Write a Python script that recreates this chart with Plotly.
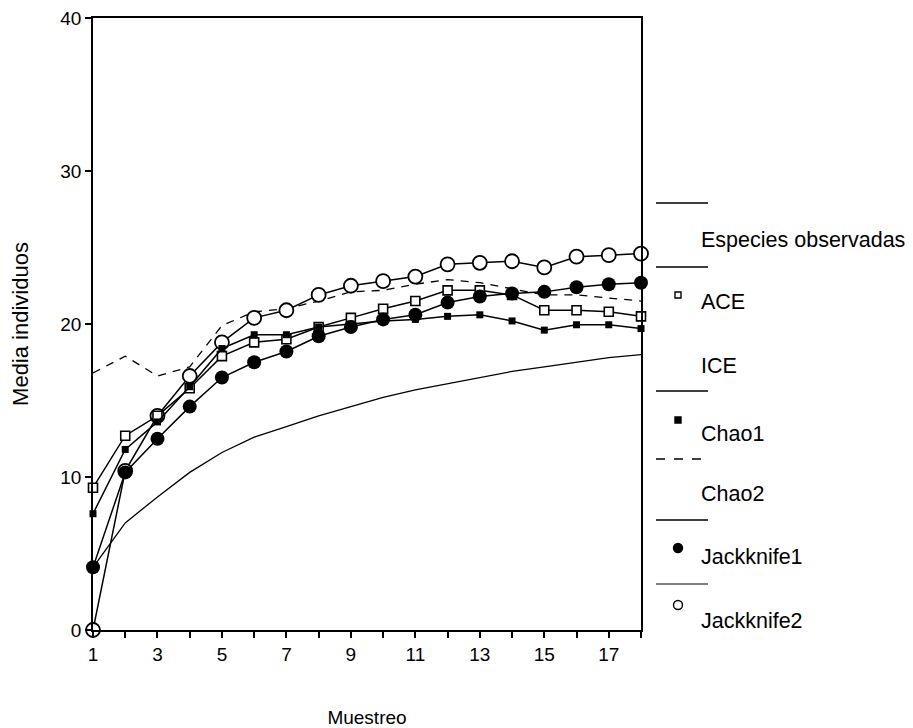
import plotly.graph_objects as go

samples = list(range(1, 19))
sobs = [4.1, 7.0, 8.7, 10.3, 11.6, 12.6, 13.3, 14.0, 14.6, 15.2, 15.7, 16.1, 16.5, 16.9, 17.2, 17.5, 17.8, 18.0]
ace = [9.3, 12.7, 14.0, 15.8, 17.9, 18.8, 19.0, 19.8, 20.4, 21.0, 21.5, 22.2, 22.2, 21.9, 20.9, 20.9, 20.8, 20.5]
chao1 = [7.6, 11.8, 13.6, 15.9, 18.4, 19.3, 19.3, 19.8, 20.0, 20.2, 20.3, 20.5, 20.6, 20.2, 19.6, 19.95, 19.95, 19.7]
chao2 = [16.8, 17.9, 16.6, 17.2, 19.9, 20.8, 21.0, 21.5, 22.1, 22.2, 22.6, 22.9, 22.7, 22.3, 21.9, 21.9, 21.7, 21.5]
jack1 = [4.1, 10.3, 12.5, 14.6, 16.5, 17.5, 18.2, 19.2, 19.8, 20.3, 20.6, 21.4, 21.8, 22.0, 22.1, 22.4, 22.6, 22.7]
jack2 = [0.0, 10.4, 14.0, 16.6, 18.8, 20.4, 20.9, 21.9, 22.5, 22.8, 23.1, 23.9, 24.0, 24.1, 23.7, 24.4, 24.5, 24.6]

y_ticks = [0, 10, 20, 30, 40]
x_tick_labels = [str(s) if s % 2 == 1 else "" for s in samples]
legend_names = ["Especies observadas", "ACE", "ICE", "Chao1", "Chao2", "Jackknife1", "Jackknife2"]

FONT = "Liberation Sans, Arial, sans-serif"
fig = go.Figure()

fig.add_trace(go.Scatter(x=samples, y=sobs, mode="lines", line=dict(color="black", width=1.3),
                         name=legend_names[0], cliponaxis=False))
fig.add_trace(go.Scatter(x=samples, y=chao2, mode="lines", line=dict(color="black", width=1.3, dash="8px,7px"),
                         name=legend_names[4], cliponaxis=False))
fig.add_trace(go.Scatter(x=samples, y=jack2, mode="lines+markers", line=dict(color="black", width=1.5),
                         marker=dict(symbol="circle", size=14, color="white", line=dict(color="black", width=1.8)),
                         name=legend_names[6], cliponaxis=False))
fig.add_trace(go.Scatter(x=samples, y=ace, mode="lines+markers", line=dict(color="black", width=1.5),
                         marker=dict(symbol="square", size=9, color="white", line=dict(color="black", width=1.6)),
                         name=legend_names[1], cliponaxis=False))
fig.add_trace(go.Scatter(x=samples, y=chao1, mode="lines+markers", line=dict(color="black", width=1.5),
                         marker=dict(symbol="square", size=7, color="black"),
                         name=legend_names[3], cliponaxis=False))
fig.add_trace(go.Scatter(x=samples, y=jack1, mode="lines+markers", line=dict(color="black", width=1.5),
                         marker=dict(symbol="circle", size=14, color="black"),
                         name=legend_names[5], cliponaxis=False))

# Manual legend (pixel -> paper conversion)
L, R, T, B = 93, 641, 18, 630
def px(x):
    return (x - L) / (R - L)
def py(y):
    return (B - y) / (B - T)

shapes = []
annotations = []
lx0, lx1, tx, mx = 656, 708, 699, 678
legend_items = [
    # (line_y, dash, width, marker, marker_y, text, text_y)
    (203, "solid", 1.5, None, None, legend_names[0], 240),
    (267, "solid", 1.5, "ace", 295, legend_names[1], 302),
    (None, None, None, None, None, legend_names[2], 366),
    (391, "solid", 1.5, "chao1", 420, legend_names[3], 434),
    (459, "dash", 1.3, None, None, legend_names[4], 494),
    (520, "solid", 1.5, "jack1", 548, legend_names[5], 557),
    (584, "solid", 1.0, "jack2", 605, legend_names[6], 621),
]
for ly, dash, w, mk, my, txt, ty in legend_items:
    if ly is not None:
        shapes.append(dict(type="line", xref="paper", yref="paper", x0=px(lx0), x1=px(lx1), y0=py(ly), y1=py(ly),
                           line=dict(color="black", width=w, dash=dash)))
    if mk is not None:
        if mk == "ace":
            h, kind, fill = 3, "rect", "white"
        elif mk == "chao1":
            h, kind, fill = 3, "rect", "black"
        elif mk == "jack1":
            h, kind, fill = 4.5, "circle", "black"
        else:
            h, kind, fill = 4.5, "circle", "white"
        shapes.append(dict(type=kind, xref="paper", yref="paper", xsizemode="pixel", ysizemode="pixel",
                           xanchor=px(mx), yanchor=py(my), x0=-h, x1=h, y0=-h, y1=h,
                           fillcolor=fill, line=dict(color="black", width=1.4)))
    annotations.append(dict(text=txt, xref="paper", yref="paper", x=px(tx), y=py(ty), xanchor="left",
                            yanchor="middle", showarrow=False, font=dict(family=FONT, size=21.5, color="black")))

fig.update_layout(
    width=913, height=728,
    margin=dict(l=L, r=913 - R, t=T, b=728 - B),
    paper_bgcolor="white", plot_bgcolor="white",
    showlegend=False,
    font=dict(family=FONT, size=19, color="black"),
    shapes=shapes, annotations=annotations,
    xaxis=dict(range=[1, 18], tickvals=samples, ticktext=x_tick_labels, ticks="outside", ticklen=6,
               tickwidth=1.5, tickcolor="black", showline=True, linecolor="black", linewidth=1.5,
               mirror=True, showgrid=False, zeroline=False, automargin=False,
               title=dict(text="Muestreo", standoff=48, font=dict(family=FONT, size=19))),
    yaxis=dict(range=[0, 40], tickvals=y_ticks, ticks="outside", ticklen=6, tickwidth=1.5, tickcolor="black",
               showline=True, linecolor="black", linewidth=1.5, mirror=True, showgrid=False, zeroline=False,
               automargin=False,
               title=dict(text="Media individuos", standoff=26, font=dict(family=FONT, size=22))),
)

fig.write_html("out.html")
